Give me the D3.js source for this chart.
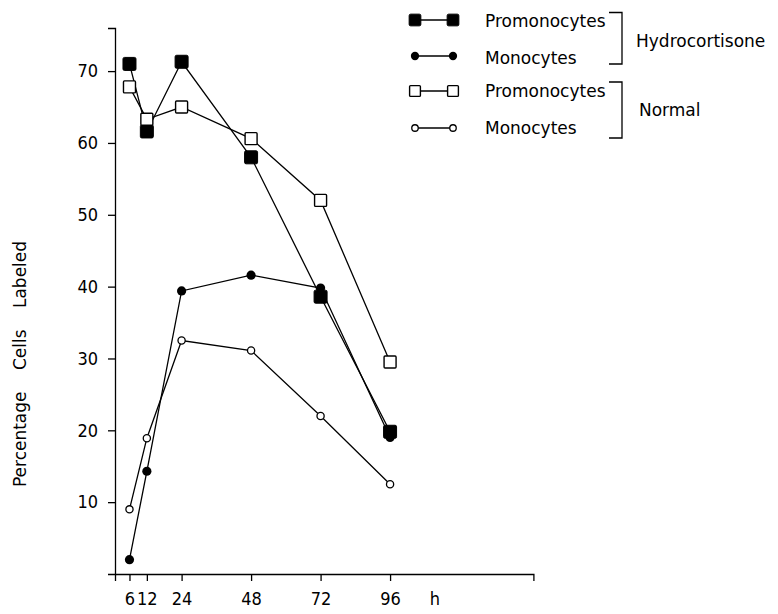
<!DOCTYPE html>
<html>
<head>
<meta charset="utf-8">
<script src="https://cdn.jsdelivr.net/npm/d3@7/dist/d3.min.js"></script>
<style>
  html, body { margin: 0; padding: 0; background: #fff; }
  svg { display: block; }
</style>
</head>
<body>
<svg id="chart" width="778" height="614"></svg>
<script>
// ---- data ----
const hours = [6, 12, 24, 48, 72, 96];
const hcPromonocytes = [71.0, 61.6, 71.3, 58.0, 38.6, 19.8];
const hcMonocytes = [2.0, 14.3, 39.4, 41.6, 39.8, 19.0];
const normalPromonocytes = [67.8, 63.3, 65.0, 60.6, 52.0, 29.5];
const normalMonocytes = [9.0, 18.9, 32.5, 31.1, 22.0, 12.5];
const xTicks = [6, 12, 24, 48, 72, 96];
const yTicks = [10, 20, 30, 40, 50, 60, 70];
const xUnit = "h";
const yTitleWords = ["Percentage", "Cells", "Labeled"];
const legendGroups = [
  { name: "Hydrocortisone", items: [
    { label: "Promonocytes", marker: "squareFilled" },
    { label: "Monocytes", marker: "circleFilled" } ] },
  { name: "Normal", items: [
    { label: "Promonocytes", marker: "squareOpen" },
    { label: "Monocytes", marker: "circleOpen" } ] }
];

const series = [
  { values: hcPromonocytes, marker: "squareFilled" },
  { values: hcMonocytes, marker: "circleFilled" },
  { values: normalPromonocytes, marker: "squareOpen" },
  { values: normalMonocytes, marker: "circleOpen" }
];

const svg = d3.select("#chart");
const x = d3.scaleLinear().domain([1, 145.5]).range([115, 533.4]);
const y = d3.scaleLinear().domain([0, 76]).range([574, 28]);

const tickFont = '"Liberation Sans Narrow", "DejaVu Sans Condensed", sans-serif';
const textFont = '"DejaVu Sans", sans-serif';

// axes
const xAxis = svg.append("g").attr("transform", "translate(0,574)")
  .call(d3.axisBottom(x).tickValues(xTicks).tickSizeOuter(0).tickSize(7).tickPadding(11));
const yAxis = svg.append("g").attr("transform", "translate(115,0)")
  .call(d3.axisLeft(y).tickValues(yTicks).tickSizeOuter(0).tickSize(7).tickPadding(10));
[xAxis, yAxis].forEach(g => {
  g.selectAll("path, line").attr("stroke", "#000").attr("stroke-width", 1.3);
  g.selectAll("text").attr("fill", "#000").style("font-family", tickFont).style("font-size", "18px");
});

// unit label
svg.append("text").attr("x", x(111.5)).attr("y", 574 + 7 + 11).attr("dy", "0.71em")
  .attr("text-anchor", "middle").style("font-family", tickFont).style("font-size", "18px")
  .text(xUnit);

// y title
const yt = svg.append("text")
  .attr("transform", "translate(26,364) rotate(-90)")
  .attr("text-anchor", "middle")
  .style("font-family", textFont).style("font-size", "17px");
yTitleWords.forEach((w, i) => {
  yt.append("tspan").attr("dx", i === 0 ? 0 : 16).text((i === 0 ? "" : " ") + w);
});

// markers
function drawMarker(g, type, cx, cy, scale) {
  scale = scale || 1;
  if (type === "squareFilled") {
    const s = 13 * scale;
    g.append("rect").attr("x", cx - s / 2).attr("y", cy - s / 2).attr("width", s).attr("height", s)
      .attr("rx", 1.5).attr("fill", "#000").attr("stroke", "#000").attr("stroke-width", 1);
  } else if (type === "squareOpen") {
    const s = 12 * scale;
    g.append("rect").attr("x", cx - s / 2).attr("y", cy - s / 2).attr("width", s).attr("height", s)
      .attr("rx", 1).attr("fill", "#fff").attr("stroke", "#000").attr("stroke-width", 1.4);
  } else if (type === "circleFilled") {
    g.append("circle").attr("cx", cx).attr("cy", cy).attr("r", 4.6 * scale).attr("fill", "#000");
  } else {
    g.append("circle").attr("cx", cx).attr("cy", cy).attr("r", 3.6 * scale)
      .attr("fill", "#fff").attr("stroke", "#000").attr("stroke-width", 1.3);
  }
}

const line = d3.line().x(d => x(d[0])).y(d => y(d[1]));
const linesG = svg.append("g");
series.forEach(s => {
  linesG.append("path").datum(hours.map((h, i) => [h, s.values[i]]))
    .attr("d", line).attr("fill", "none").attr("stroke", "#000").attr("stroke-width", 1.3);
});
const marksG = svg.append("g");
series.forEach(s => {
  hours.forEach((h, i) => drawMarker(marksG, s.marker, x(h), y(s.values[i])));
});

// legend
const lg = svg.append("g");
const rowY = [20, 56, 91, 128];
const baseY = [27, 63.5, 97, 133.5];
let r = 0;
legendGroups.forEach((grp, gi) => {
  const startRow = r;
  grp.items.forEach(it => {
    lg.append("line").attr("x1", 415).attr("x2", 453).attr("y1", rowY[r]).attr("y2", rowY[r])
      .attr("stroke", "#000").attr("stroke-width", 1.3);
    drawMarker(lg, it.marker, 415, rowY[r], 0.9);
    drawMarker(lg, it.marker, 453, rowY[r], 0.9);
    lg.append("text").attr("x", 485).attr("y", baseY[r])
      .style("font-family", textFont).style("font-size", "17px").text(it.label);
    r++;
  });
  const top = gi === 0 ? 12.5 : 82;
  const bot = gi === 0 ? 64 : 138;
  lg.append("path").attr("d", `M609,${top}H622V${bot}H609`).attr("fill", "none")
    .attr("stroke", "#000").attr("stroke-width", 1.3);
  lg.append("text").attr("x", gi === 0 ? 636 : 639).attr("y", gi === 0 ? 46.5 : 116)
    .style("font-family", textFont).style("font-size", "17px").text(grp.name);
});
</script>
</body>
</html>
